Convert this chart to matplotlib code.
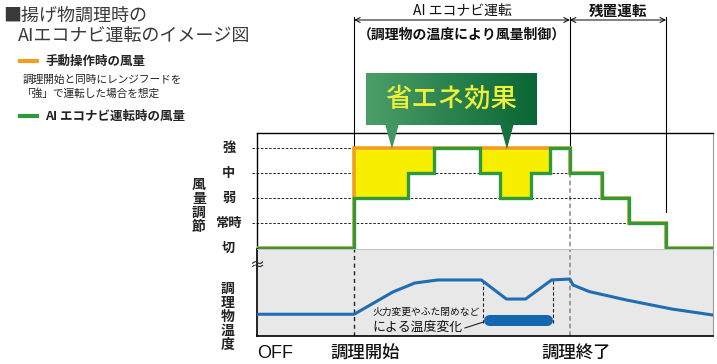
import numpy as np
import matplotlib.pyplot as plt
from matplotlib.patches import Polygon
from matplotlib.colors import LinearSegmentedColormap

plt.rcParams['font.family'] = ['Noto Sans CJK JP', 'DejaVu Sans']

# time axis is in arbitrary units (0-100)
cook_start = 21.3
cook_end = 68.6
residual_end = 89.7

level_labels = ["切", "常時", "弱", "中", "強"]

# green: AI eco-navi fan level (step, post)
green_t = [0, 21.3, 33.1, 38.8, 48.9, 53.3, 60.1, 64.3, 68.6, 75.7, 81.6, 89.7, 100]
green_lv = [0, 2, 3, 4, 3, 2, 3, 4, 3, 2, 1, 0, 0]

# orange: manual operation fan level
orange_t = [0, 21.3, 68.6, 75.7, 81.6, 89.7, 100]
orange_lv = [0, 4, 3, 2, 1, 0, 0]

# food temperature (arbitrary units)
temp_t = [0, 21.3, 29.8, 34.6, 39.6, 49.2, 54.7, 58.9, 64.6, 68.6, 69.3, 72.9, 81.0, 91.0, 100]
temp_v = [25, 25, 50.6, 60.9, 64.4, 64.4, 42.5, 42.5, 64.4, 65.5, 58.6, 51.0, 41.4, 31.0, 24.1]

# temperature change window (heat change / lid)
change_t0 = 49.6
change_t1 = 64.9

W, H = 717, 364
ORANGE = "#f0a020"
GREEN = "#2d9a3c"
BLUE = "#1f6db3"
YELLOW = "#f8ef00"


def fx(x):
    return x / W


def fy(y):
    return 1 - y / H


fig = plt.figure(figsize=(W / 100, H / 100), dpi=100)

# ---- top panel: fan level
ax = fig.add_axes([fx(257), fy(249), (713 - 257) / W, (249 - 133) / H])
ax.set_xlim(0, 100)
ax.set_ylim(-0.04, 4.6)
ax.set_xticks([])
ax.set_yticks([])
ax.spines['bottom'].set_visible(False)
ax.spines['right'].set_color("#999999")
for s in ['top', 'left']:
    ax.spines[s].set_linewidth(1.0)

gt = np.array(green_t)
gl = np.array(green_lv)

# dashed guides up to where the falling green step reaches the level
for L in range(1, 5):
    idx = [i for i in range(1, len(gl)) if gl[i] == L and gl[i - 1] != L]
    end = gt[idx[-1]]
    ax.plot([-1.1, end], [L, L], color="black", lw=0.6, ls=(0, (3, 2)),
            zorder=1, clip_on=False)

# yellow saving area
for i in range(len(gt) - 1):
    t0, t1 = gt[i], gt[i + 1]
    if t0 < cook_start or t0 >= cook_end:
        continue
    o = orange_lv[np.searchsorted(orange_t, t0, side='right') - 1]
    if o > gl[i]:
        ax.fill_between([t0, t1], [gl[i], gl[i]], [o, o], color=YELLOW, lw=0, zorder=2)

ax.step(orange_t, orange_lv, where='post', color=ORANGE, lw=2.6, zorder=3,
        solid_joinstyle='miter')
ax.step(green_t, green_lv, where='post', color=GREEN, lw=2.4, zorder=4,
        solid_joinstyle='miter')

# cook-end dashed line (gray)
ax.plot([cook_end, cook_end], [3, -0.04], color="#888888", lw=1.1, ls=(0, (3, 2)), zorder=0)

# level labels
for i, lab in enumerate(level_labels):
    ax.text(-6.2, i, lab, ha='center', va='center', fontsize=9.5, fontweight='bold',
            color="#222222", clip_on=False)
fig.text(fx(199), fy(206), "\n".join("風量調節"), ha='center', va='center', fontsize=10,
         fontweight='bold', color="#222222", linespacing=1.0)

# phase brackets
for t, yb in [(cook_start, 4), (cook_end, 4), (residual_end, 1.44)]:
    ax.plot([t, t], [9.24, yb], color="black", lw=0.8, clip_on=False, zorder=1)
for a, b in [(cook_start, cook_end), (cook_end, residual_end)]:
    ax.annotate("", xy=(a, 9.12), xytext=(b, 9.12), annotation_clip=False,
                arrowprops=dict(arrowstyle='<->', lw=0.7, shrinkA=0, shrinkB=0,
                                mutation_scale=9, color="black"))
ax.text((cook_start + cook_end) / 2, 9.5, "AI エコナビ運転", ha='center', va='center',
        fontsize=10, color="#111111", clip_on=False)
ax.text((cook_end + residual_end) / 2, 9.5, "残置運転", ha='center', va='center',
        fontsize=10.5, fontweight='bold', color="#111111", clip_on=False)
ax.text((cook_start + cook_end) / 2, 8.52, "（調理物の温度により風量制御）", ha='center',
        va='center', fontsize=10, fontweight='bold', color="#111111", clip_on=False)

# energy-saving callout
cmap = LinearSegmentedColormap.from_list("g", ["#4c9e69", "#0a6634"])
for tx, frac in [(29.6, 0.15), (54.8, 0.82)]:
    ax.add_patch(Polygon([[tx - 1.45, 4.92], [tx + 1.45, 4.92], [tx, 3.95]], closed=True,
                         color=cmap(frac), clip_on=False, zorder=6, lw=0))
bx = fig.add_axes([fx(366), fy(125), (537 - 366) / W, 52 / H])
bx.imshow(np.linspace(0, 1, 256).reshape(1, -1), cmap=cmap, aspect='auto',
          extent=[0, 1, 0, 1])
bx.set_xlim(0, 1)
bx.set_ylim(0, 1)
bx.axis('off')
bx.text(0.5, 0.5, "省エネ効果", ha='center', va='center', fontsize=19,
        color="#eef03a", fontweight='medium')

# ---- bottom panel: temperature
bax = fig.add_axes([fx(257), fy(336), (713 - 257) / W, (336 - 249) / H])
bax.set_facecolor("#e8e8e8")
bax.set_xlim(0, 100)
bax.set_ylim(0, 100)
bax.set_xticks([])
bax.set_yticks([])
bax.spines['top'].set_color("#bbbbbb")
bax.spines['top'].set_linewidth(0.6)
bax.spines['right'].set_color("#999999")
bax.spines['left'].set_linewidth(1.2)
bax.spines['bottom'].set_linewidth(1.2)

bax.plot([cook_start, cook_start], [0, 100], color="#222222", lw=1.0, ls=(0, (3, 2.5)))
bax.plot([cook_end, cook_end], [0, 100], color="#888888", lw=1.1, ls=(0, (3, 2)))
for t in [change_t0, change_t1]:
    bax.plot([t, t], [15, 64], color="#222222", lw=0.8, ls=(0, (3, 2)))
bax.plot(temp_t, temp_v, color=BLUE, lw=2.2, zorder=3)

# pill marking the temperature change
bax.plot([change_t0 + 1.2, change_t1 - 1.2], [18.4, 18.4], color="#1466b0", lw=7.9,
         solid_capstyle='round', zorder=4)
bax.plot([45.6, change_t0], [9.2, 16], color="#222222", lw=0.8)
bax.text(25.4, 27.6, "火力変更やふた閉めなど", ha='left', va='center', fontsize=7,
         color="#111111")
bax.text(25.4, 10.3, "による温度変化", ha='left', va='center', fontsize=9.3,
         color="#111111")

fig.text(fx(228), fy(317), "\n".join("調理物温度"), ha='center', va='center', fontsize=10,
         fontweight='bold', color="#222222", linespacing=1.0)
fig.text(fx(257), fy(265), "≈", ha='center', va='center', fontsize=11, color="#222222")

# time labels
fig.text(fx(257), fy(354), "OFF", ha='left', va='center', fontsize=13, color="#111111",
         family=['Liberation Sans', 'DejaVu Sans'])
fig.text(fx(365), fy(354), "調理開始", ha='center', va='center', fontsize=12.5,
         color="#111111", fontweight='medium')
fig.text(fx(576), fy(354), "調理終了", ha='center', va='center', fontsize=12.5,
         color="#111111", fontweight='medium')

# ---- title and legend
fig.text(fx(3), fy(16), "■揚げ物調理時の", ha='left', va='center', fontsize=13,
         color="#3a3a3a")
fig.text(fx(18), fy(36), "AIエコナビ運転のイメージ図", ha='left', va='center', fontsize=13,
         color="#3a3a3a")
fig.add_artist(plt.Line2D([fx(20), fx(37)], [fy(61), fy(61)], color=ORANGE, lw=3))
fig.text(fx(45), fy(61), "手動操作時の風量", ha='left', va='center', fontsize=9,
         fontweight='bold', color="#222222")
fig.text(fx(23), fy(80), "調理開始と同時にレンジフードを", ha='left', va='center',
         fontsize=7.7, color="#222222")
fig.text(fx(21), fy(93), "「強」で運転した場合を想定", ha='left', va='center',
         fontsize=7.7, color="#222222")
fig.add_artist(plt.Line2D([fx(20), fx(37)], [fy(116), fy(116)], color=GREEN, lw=3))
fig.text(fx(45), fy(116), "AI エコナビ運転時の風量", ha='left', va='center', fontsize=9,
         fontweight='bold', color="#222222")

fig.savefig("out.png", dpi=100)
